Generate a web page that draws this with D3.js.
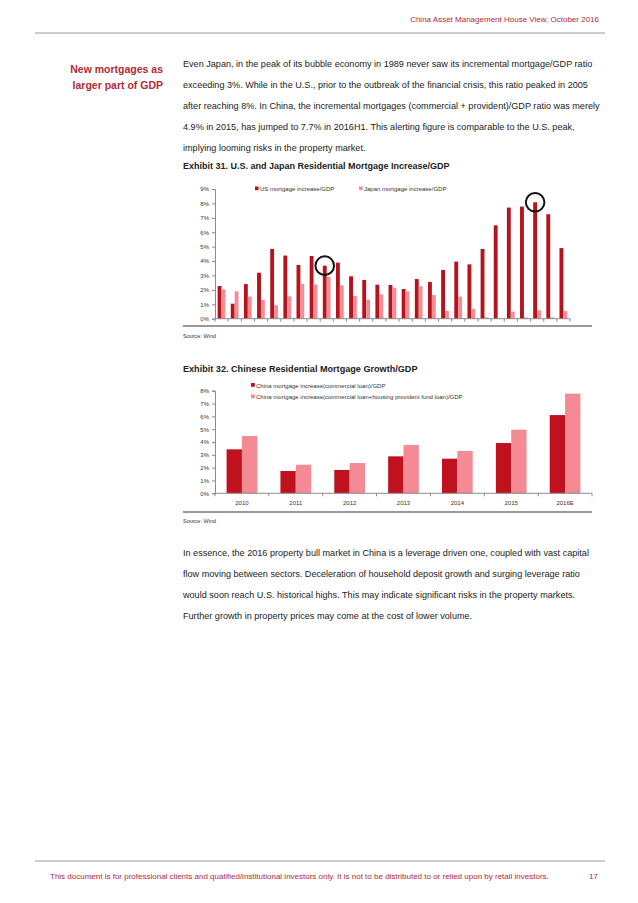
<!DOCTYPE html>
<html><head><meta charset="utf-8">
<script src="https://cdn.jsdelivr.net/npm/d3@7"></script>
<style>
body{margin:0;background:#fff;}
svg{display:block;font-family:"Liberation Sans",Arial,sans-serif;}
</style></head><body>
<svg id="page" width="638" height="903"></svg>
<script>
// ---------- data ----------
const usYears = d3.range(1981, 2008).map(String);
const usMortgage = [2.27,1.04,2.40,3.19,4.84,4.38,3.73,4.35,3.68,3.89,2.94,2.69,2.36,2.34,2.06,2.75,2.55,3.38,3.96,3.77,4.84,6.48,7.71,7.78,8.08,7.25,4.90];
const japanMortgage = [2.04,1.90,1.53,1.30,0.93,1.55,2.41,2.38,2.89,2.31,1.57,1.32,1.69,2.15,1.90,2.25,1.64,0.53,1.53,0.67,0.09,0.02,0.49,0.09,0.58,0.09,0.53];
const chart1Ticks = [0,1,2,3,4,5,6,7,8,9];
const chart1Series = ["US mortgage increase/GDP","Japan mortgage increase/GDP"];
const circledYears = ["1989","2005"];

const chinaYears = ["2010","2011","2012","2013","2014","2015","2016E"];
const chinaCommercial = [3.43,1.74,1.82,2.88,2.70,3.92,6.10];
const chinaTotal = [4.47,2.23,2.36,3.77,3.30,4.96,7.77];
const chart2Ticks = [0,1,2,3,4,5,6,7,8];
const chart2Series = ["China mortgage increase(commercial loan)/GDP","China mortgage increase(commercial loan+housing provident fund loan)/GDP"];

const para1 = [
 "Even Japan, in the peak of its bubble economy in 1989 never saw its incremental mortgage/GDP ratio",
 "exceeding 3%. While in the U.S., prior to the outbreak of the financial crisis, this ratio peaked in 2005",
 "after reaching 8%. In China, the incremental mortgages (commercial + provident)/GDP ratio was merely",
 "4.9% in 2015, has jumped to 7.7% in 2016H1. This alerting figure is comparable to the U.S. peak,",
 "implying looming risks in the property market."
];
const para2 = [
 "In essence, the 2016 property bull market in China is a leverage driven one, coupled with vast capital",
 "flow moving between sectors. Deceleration of household deposit growth and surging leverage ratio",
 "would soon reach U.S. historical highs. This may indicate significant risks in the property markets.",
 "Further growth in property prices may come at the cost of lower volume."
];

// ---------- styles ----------
const DARK = "#b5141f", PINK = "#f28d95", RED_TXT = "#b32a36", AXIS = "#8c8c8c", TXT = "#222";
const svg = d3.select("#page");
svg.append("rect").attr("width",638).attr("height",903).attr("fill","#fff");

// header
svg.append("text").attr("x",599).attr("y",22).attr("text-anchor","end")
  .attr("font-size",8).attr("fill",RED_TXT).text("China Asset Management House View, October 2016");
svg.append("line").attr("x1",35).attr("x2",605).attr("y1",33).attr("y2",33).attr("stroke","#999").attr("stroke-width",1);

// side heading
svg.append("text").attr("x",163).attr("y",73).attr("text-anchor","end").attr("font-size",10.5)
  .attr("font-weight","bold").attr("fill",RED_TXT).text("New mortgages as");
svg.append("text").attr("x",163).attr("y",89).attr("text-anchor","end").attr("font-size",10.5)
  .attr("font-weight","bold").attr("fill",RED_TXT).text("larger part of GDP");

function para(lines, y0){
  svg.append("g").selectAll("text").data(lines).join("text")
    .attr("x",183).attr("y",(d,i)=>y0+i*21).attr("font-size",9.1).attr("fill",TXT).text(d=>d);
}
para(para1, 67);
para(para2, 556);

// ---------- chart 1 ----------
{
  const left=215, right=570, y0=318.7, y9=189;
  const x0 = d3.scaleBand().domain(usYears).range([left,right]);
  const x1 = d3.scaleBand().domain([0,1]).range([x0.bandwidth()*0.2, x0.bandwidth()*0.79]);
  const y = d3.scaleLinear().domain([0,9]).range([y0,y9]);
  const g = svg.append("g");

  svg.append("text").attr("x",183).attr("y",169).attr("font-size",9).attr("font-weight","bold")
    .attr("fill",TXT).text("Exhibit 31. U.S. and Japan Residential Mortgage Increase/GDP");

  // y axis
  const ya = g.append("g").attr("transform",`translate(${left},0)`)
    .call(d3.axisLeft(y).tickValues(chart1Ticks).tickFormat(d=>d+"%").tickSize(3).tickPadding(3));
  ya.select(".domain").attr("stroke",AXIS);
  ya.selectAll(".tick line").attr("stroke",AXIS);
  ya.selectAll("text").attr("font-size",6).attr("fill","#333").attr("font-family","Liberation Sans, Arial");

  // bars
  const vals = [usMortgage, japanMortgage];
  const cols = [DARK, PINK];
  vals.forEach((arr,s)=>{
    g.append("g").selectAll("rect").data(arr).join("rect")
      .attr("x",(d,i)=>x0(usYears[i])+x1(s)).attr("width",x1.bandwidth())
      .attr("y",d=>y(d)).attr("height",d=>y(0)-y(d)).attr("fill",cols[s]);
  });

  // x axis
  g.append("line").attr("x1",left).attr("x2",right).attr("y1",y0).attr("y2",y0).attr("stroke",AXIS);
  g.append("g").selectAll("line").data(usYears.concat(["end"])).join("line")
    .attr("x1",(d,i)=>left+i*x0.step()).attr("x2",(d,i)=>left+i*x0.step())
    .attr("y1",y0).attr("y2",y0+3).attr("stroke",AXIS);

  // circles
  g.append("g").selectAll("circle").data(circledYears).join("circle")
    .attr("cx",d=>x0(d)+x1(0)+x1.bandwidth()/2)
    .attr("cy",d=>y(usMortgage[usYears.indexOf(d)]))
    .attr("r",9.3).attr("fill","none").attr("stroke","#111").attr("stroke-width",2);

  // legend
  const lx=[255,359];
  chart1Series.forEach((s,i)=>{
    g.append("rect").attr("x",lx[i]).attr("y",186.5).attr("width",3.6).attr("height",3.6).attr("fill",cols[i]);
    g.append("text").attr("x",lx[i]+5).attr("y",191).attr("font-size",6).attr("fill","#333").text(s);
  });

  svg.append("line").attr("x1",183).attr("x2",592).attr("y1",326).attr("y2",326).attr("stroke","#777").attr("stroke-width",1.3);
  svg.append("text").attr("x",183).attr("y",337.5).attr("font-size",5.5).attr("fill","#333").text("Source: Wind");
}

// ---------- chart 2 ----------
{
  const left=215, right=592, y0=493.3, y8=390.7;
  const x0 = d3.scaleBand().domain(chinaYears).range([left,right]);
  const x1 = d3.scaleBand().domain([0,1]).range([x0.bandwidth()*0.215, x0.bandwidth()*0.785]);
  const y = d3.scaleLinear().domain([0,8]).range([y0,y8]);
  const g = svg.append("g");

  svg.append("text").attr("x",183).attr("y",372).attr("font-size",9.1).attr("font-weight","bold")
    .attr("fill",TXT).text("Exhibit 32. Chinese Residential Mortgage Growth/GDP");

  const ya = g.append("g").attr("transform",`translate(${left},0)`)
    .call(d3.axisLeft(y).tickValues(chart2Ticks).tickFormat(d=>d+"%").tickSize(3).tickPadding(3));
  ya.select(".domain").attr("stroke",AXIS);
  ya.selectAll(".tick line").attr("stroke",AXIS);
  ya.selectAll("text").attr("font-size",6).attr("fill","#333").attr("font-family","Liberation Sans, Arial");

  const vals=[chinaCommercial, chinaTotal];
  const cols=["#c0121e","#f48a93"];
  vals.forEach((arr,s)=>{
    g.append("g").selectAll("rect").data(arr).join("rect")
      .attr("x",(d,i)=>x0(chinaYears[i])+x1(s)).attr("width",x1.bandwidth())
      .attr("y",d=>y(d)).attr("height",d=>y(0)-y(d)).attr("fill",cols[s]);
  });

  g.append("line").attr("x1",left).attr("x2",right).attr("y1",y0).attr("y2",y0).attr("stroke",AXIS);
  g.append("g").selectAll("line").data(chinaYears.concat(["end"])).join("line")
    .attr("x1",(d,i)=>left+i*x0.step()).attr("x2",(d,i)=>left+i*x0.step())
    .attr("y1",y0).attr("y2",y0+3).attr("stroke",AXIS);
  g.append("g").selectAll("text").data(chinaYears).join("text")
    .attr("x",d=>x0(d)+x0.bandwidth()/2).attr("y",504.5).attr("text-anchor","middle")
    .attr("font-size",6).attr("fill","#333").text(d=>d);

  chart2Series.forEach((s,i)=>{
    g.append("rect").attr("x",251).attr("y",383+i*11.5).attr("width",3.8).attr("height",3.8).attr("fill",cols[i]);
    g.append("text").attr("x",256).attr("y",387.5+i*11.5).attr("font-size",6).attr("fill","#333").text(s);
  });

  svg.append("line").attr("x1",183).attr("x2",592).attr("y1",512).attr("y2",512).attr("stroke","#777").attr("stroke-width",1.3);
  svg.append("text").attr("x",183).attr("y",523).attr("font-size",5.5).attr("fill","#333").text("Source: Wind");
}

// footer
svg.append("line").attr("x1",35).attr("x2",605).attr("y1",861).attr("y2",861).attr("stroke","#999").attr("stroke-width",1);
svg.append("text").attr("x",50).attr("y",879).attr("font-size",8).attr("fill",RED_TXT)
  .text("This document is for professional clients and qualified/institutional investors only. It is not to be distributed to or relied upon by retail investors.");
svg.append("text").attr("x",598).attr("y",879).attr("text-anchor","end").attr("font-size",8).attr("fill",RED_TXT).text("17");
</script>
</body></html>
